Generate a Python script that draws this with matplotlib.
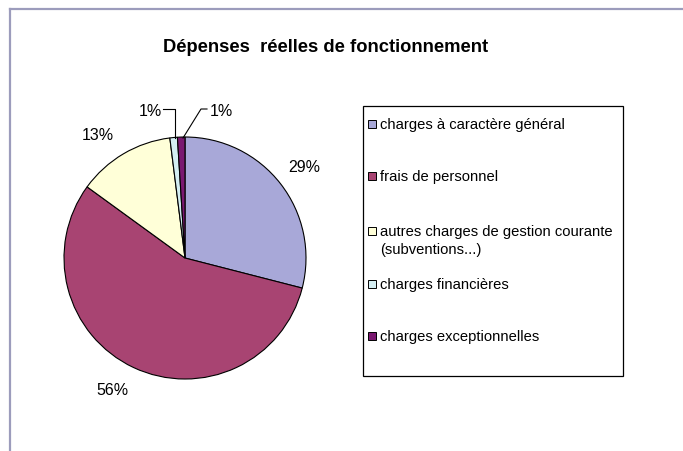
import matplotlib

matplotlib.use("Agg")

import matplotlib.pyplot as plt
from matplotlib.patches import Rectangle

plt.rcParams["font.family"] = ["Liberation Sans", "DejaVu Sans"]

# data
categories = [
    "charges à caractère général",
    "frais de personnel",
    "autres charges de gestion courante\n(subventions...)",
    "charges financières",
    "charges exceptionnelles",
]
shares = [29, 56, 13, 1, 1]
colors = ["#a8a8d8", "#a84472", "#ffffd8", "#d4eef2", "#7a1870"]
title = "Dépenses  réelles de fonctionnement"

W, H = 683, 452


def py(y):
    # pixel rows measured from top -> axes coords from bottom
    return H - y


fig = plt.figure(figsize=(W / 100, H / 100), dpi=100)
ax = fig.add_axes([0, 0, 1, 1])

wedges, _ = ax.pie(
    shares,
    colors=colors,
    startangle=90,
    counterclock=False,
    center=(185, py(259)),
    radius=121,
    wedgeprops=dict(edgecolor="black", linewidth=0.8),
)
ax.set_xlim(0, W)
ax.set_ylim(0, H)
ax.set_aspect("equal")
ax.axis("off")

# outer frame (only top and left edges visible in the crop)
ax.plot([10, 10], [py(10), 0], color="#9c9cbc", lw=1.6)
ax.plot([10, W], [py(10), py(10)], color="#9c9cbc", lw=1.6)

ax.text(326, py(47), title, ha="center", va="center", fontsize=13.2, fontweight="bold")

# percentage labels
label_pos = [(304, 168), (112, 391), (98, 135), (150, 111), (221, 111)]
for v, (x, y) in zip(shares, label_pos):
    ax.text(x, py(y), f"{v}%", ha="center", va="center", fontsize=11.5)

# leader lines for the two 1% slices
ax.plot([163, 175, 175], [py(110), py(110), py(139)], color="black", lw=0.8)
ax.plot([207, 201, 183], [py(110), py(110), py(139)], color="black", lw=0.8)

# legend drawn as a box with swatches
ax.add_patch(Rectangle((363, py(377)), 260, 270, facecolor="white", edgecolor="black", lw=0.9))
legend_rows = [125, 177, 232, 285, 337]
for name, col, y in zip(categories, colors, legend_rows):
    ax.add_patch(Rectangle((368, py(y) - 4), 8, 8, facecolor=col, edgecolor="black", lw=0.7))
    lines = name.split("\n")
    for i, line in enumerate(lines):
        ax.text(380, py(y + 18 * i), line, ha="left", va="center", fontsize=10.6)

fig.savefig("out.png", dpi=100)
